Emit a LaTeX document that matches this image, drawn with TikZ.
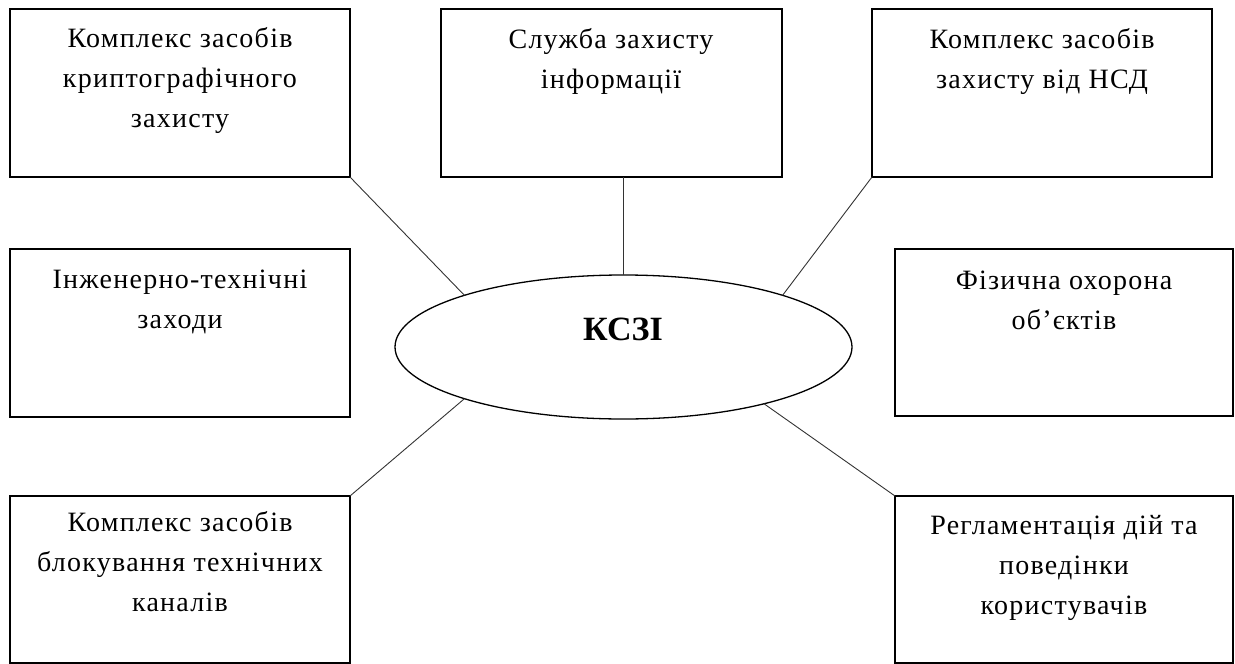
\documentclass[tikz,border=0pt]{standalone}
\usepackage{fontspec}
\setmainfont{Liberation Serif}
\newfontfamily\boxfont[LetterSpace=4.5]{Liberation Serif}
\usetikzlibrary{shapes.geometric}
\newcommand{\firstln}{\rule{0pt}{21pt}}
\tikzset{
  boxnode/.style={draw=black, line width=1.6pt, rectangle, inner sep=0pt, outer sep=0pt},
  txt/.style={anchor=north, align=center, inner sep=0pt, font=\boxfont\fontsize{28}{40}\selectfont},
  conn/.style={draw=black!80, line width=0.9pt},
}
\begin{document}
\begin{tikzpicture}[x=1pt,y=-1pt]
\useasboundingbox (0,0) rectangle (1235,664);
% boxes
\node[boxnode, minimum width=340, minimum height=168] (tl) at (180,93) {};
\node[boxnode, minimum width=341, minimum height=168] (tc) at (611.5,93) {};
\node[boxnode, minimum width=340, minimum height=168] (tr) at (1042,93) {};
\node[boxnode, minimum width=340, minimum height=168] (ml) at (180,333) {};
\node[boxnode, minimum width=338, minimum height=167] (mr) at (1064,332.5) {};
\node[boxnode, minimum width=340, minimum height=167] (bl) at (180,579.5) {};
\node[boxnode, minimum width=338, minimum height=167] (br) at (1064,579.5) {};
% texts
\node[txt] (ttl) at (180,26) {\firstln Комплекс засобів\\криптографічного\\захисту};
\node[txt] (ttc) at (611,27) {\firstln Служба захисту\\інформації};
\node[txt] (ttr) at (1042,27) {\firstln Комплекс засобів\\захисту від НСД};
\node[txt] (tml) at (180,267) {\firstln Інженерно-технічні\\заходи};
\node[txt] (tmr) at (1064,268) {\firstln Фізична охорона\\об’єктів};
\node[txt] (tbl) at (180,510) {\firstln Комплекс засобів\\блокування технічних\\каналів};
\node[txt] (tbr) at (1064,513) {\firstln Регламентація дій та\\поведінки\\користувачів};
% ellipse
\node[draw=black, line width=1.3pt, ellipse, minimum width=457, minimum height=144, inner sep=0pt, outer sep=0pt] (el) at (623.5,347) {};
\node[anchor=base, inner sep=0pt, font=\fontsize{34}{36}\selectfont\bfseries] (k) at (623,340) {КСЗІ};
% connectors
\draw[conn] (el.north) -- (el.north |- tc.south);
\draw[conn] (tl.south east) -- (el.162);
\draw[conn] (tr.south west) -- (el.18.5);
\draw[conn] (bl.north east) -- (el.198.5);
\draw[conn] (br.north west) -- (el.338);
\end{tikzpicture}
\end{document}
